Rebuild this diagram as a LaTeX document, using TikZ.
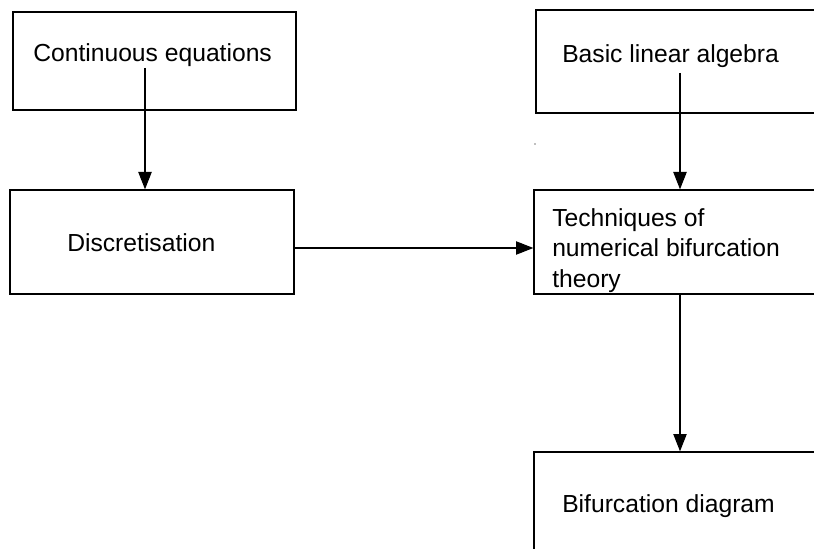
\documentclass[tikz,border=0pt]{standalone}
\usepackage{fontspec}
\setmainfont{Liberation Sans}
\usetikzlibrary{arrows.meta,fit}
\begin{document}
\begin{tikzpicture}[x=0.75pt,y=-0.75pt,
  box/.style={draw,line width=1pt,inner sep=0pt,rectangle},
  lbl/.style={anchor=base west,inner sep=0pt,font=\fontsize{18.5}{24}\selectfont},
  arr/.style={line width=0.9pt,-{Triangle[length=13pt,width=10pt]}}]
\useasboundingbox (0,0) rectangle (814,549);
\clip (0,0) rectangle (814,549);
\node[box,fit={(13,12) (296,110)}] (b1) {};
\node[box,fit={(10,190) (294,294)}] (b2) {};
\node[box,fit={(536,10) (840,113)}] (b3) {};
\node[box,fit={(534,190) (840,294)}] (b4) {};
\node[box,fit={(534,452) (840,580)}] (b5) {};
\node[lbl] (t1) at (33,62) {Continuous equations};
\node[lbl] (t2) at (67,252) {Discretisation};
\node[lbl] (t3) at (562,63) {Basic linear algebra};
\node[lbl] (t4a) at (552,226) {Techniques of};
\node[lbl] (t4b) at (552,257) {numerical bifurcation};
\node[lbl] (t4c) at (552,287) {theory};
\node[lbl] (t5) at (562,512) {Bifurcation diagram};
\coordinate (s1) at (145,68);
\coordinate (s2) at (295,248);
\coordinate (s3) at (680,73);
\coordinate (s4) at (680,295);
\draw[arr] (s1) -- (s1 |- b2.north);
\draw[arr] (s2) -- (s2 -| b4.west);
\draw[arr] (s3) -- (s3 |- b4.north);
\draw[arr] (s4) -- (s4 |- b5.north);
\fill[gray] (535,144) circle (0.8);
\end{tikzpicture}
\end{document}
